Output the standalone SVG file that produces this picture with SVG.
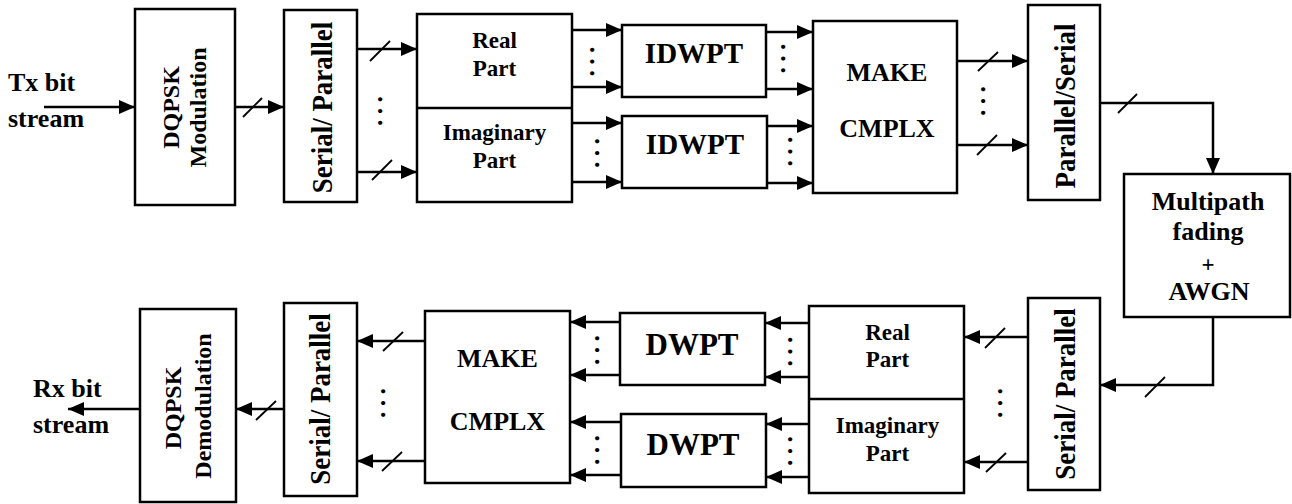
<svg xmlns="http://www.w3.org/2000/svg" width="1292" height="504" viewBox="0 0 1292 504">
<defs>
<marker id="ah" markerUnits="userSpaceOnUse" markerWidth="16" markerHeight="14" refX="16" refY="7" orient="auto">
<path d="M0,0 L16,7 L0,14 z" fill="#000"/>
</marker>
<style>
.box{fill:#fff;stroke:#000;stroke-width:2.5}
.div{stroke:#000;stroke-width:2.5}
.c{fill:none;stroke:#000;stroke-width:2.5;marker-end:url(#ah)}
.sl{stroke:#000;stroke-width:1.8}
text{font-family:"Liberation Serif","Times New Roman",serif;font-weight:bold;fill:#000}
.m{text-anchor:middle}
.dots{font-weight:normal;font-size:35px;text-anchor:middle}
</style>
</defs>
<rect x="0" y="0" width="1292" height="504" fill="#fff"/>

<g id="connectors">
<line class="c" x1="44" y1="107" x2="135" y2="107"/>
<line class="c" x1="235" y1="107" x2="284" y2="107"/>
<line class="c" x1="357" y1="49" x2="417" y2="49"/>
<line class="c" x1="357" y1="172" x2="417" y2="172"/>
<line class="c" x1="572" y1="30" x2="622" y2="30"/>
<line class="c" x1="572" y1="87" x2="622" y2="87"/>
<line class="c" x1="572" y1="123" x2="622" y2="123"/>
<line class="c" x1="572" y1="182" x2="622" y2="182"/>
<line class="c" x1="766" y1="32" x2="813" y2="32"/>
<line class="c" x1="766" y1="89" x2="813" y2="89"/>
<line class="c" x1="767" y1="126" x2="813" y2="126"/>
<line class="c" x1="767" y1="183" x2="813" y2="183"/>
<line class="c" x1="957" y1="61" x2="1028" y2="61"/>
<line class="c" x1="957" y1="145" x2="1028" y2="145"/>
<path class="c" d="M1100,103 H1213 V174"/>
<path class="c" d="M1213,317 V385 H1100"/>
<line class="c" x1="1028" y1="337" x2="964" y2="337"/>
<line class="c" x1="1028" y1="462" x2="964" y2="462"/>
<line class="c" x1="809" y1="323" x2="765" y2="323"/>
<line class="c" x1="809" y1="377" x2="765" y2="377"/>
<line class="c" x1="809" y1="424" x2="766" y2="424"/>
<line class="c" x1="809" y1="477" x2="766" y2="477"/>
<line class="c" x1="620" y1="322" x2="570" y2="322"/>
<line class="c" x1="620" y1="375" x2="570" y2="375"/>
<line class="c" x1="621" y1="422" x2="570" y2="422"/>
<line class="c" x1="621" y1="475" x2="570" y2="475"/>
<line class="c" x1="425" y1="341" x2="357" y2="341"/>
<line class="c" x1="425" y1="461" x2="357" y2="461"/>
<line class="c" x1="284" y1="409" x2="236" y2="409"/>
<line class="c" x1="140" y1="409" x2="68" y2="409"/>
<!-- bus slashes -->
<line class="sl" x1="243" y1="117" x2="262" y2="98"/>
<line class="sl" x1="370" y1="61" x2="390" y2="41"/>
<line class="sl" x1="372" y1="180" x2="392" y2="160"/>
<line class="sl" x1="978" y1="71" x2="998" y2="52"/>
<line class="sl" x1="977" y1="155" x2="997" y2="135"/>
<line class="sl" x1="1118" y1="113" x2="1137" y2="94"/>
<line class="sl" x1="1145" y1="397" x2="1165" y2="377"/>
<line class="sl" x1="985" y1="348" x2="1005" y2="328"/>
<line class="sl" x1="986" y1="472" x2="1006" y2="453"/>
<line class="sl" x1="383" y1="351" x2="403" y2="332"/>
<line class="sl" x1="382" y1="471" x2="402" y2="452"/>
<line class="sl" x1="256" y1="420" x2="276" y2="401"/>
<!-- ellipses -->
<text class="dots" transform="translate(378,111) rotate(90)">…</text>
<text class="dots" transform="translate(590,61.5) rotate(90)">…</text>
<text class="dots" transform="translate(781,58.5) rotate(90)">…</text>
<text class="dots" transform="translate(595,153) rotate(90)">…</text>
<text class="dots" transform="translate(788,151.5) rotate(90)">…</text>
<text class="dots" transform="translate(981,101) rotate(90)">…</text>
<text class="dots" transform="translate(998,403) rotate(90)">…</text>
<text class="dots" transform="translate(788,351.5) rotate(90)">…</text>
<text class="dots" transform="translate(788,451) rotate(90)">…</text>
<text class="dots" transform="translate(595,350) rotate(90)">…</text>
<text class="dots" transform="translate(595,450) rotate(90)">…</text>
<text class="dots" transform="translate(381,403) rotate(90)">…</text>
</g>

<g id="tx-label">
<text x="8" y="91" font-size="26">Tx bit</text>
<text x="8" y="127" font-size="26">stream</text>
</g>
<g id="rx-label">
<text x="33" y="397" font-size="26">Rx bit</text>
<text x="33" y="433" font-size="26">stream</text>
</g>

<g id="dqpsk-mod">
<rect class="box" x="135" y="9" width="100" height="196"/>
<text class="m" font-size="24" transform="translate(179,107.5) rotate(-90)">DQPSK</text>
<text class="m" font-size="24" transform="translate(206,107.5) rotate(-90)">Modulation</text>
</g>
<g id="sp-tx">
<rect class="box" x="284" y="10" width="73" height="192"/>
<text class="m" font-size="27" transform="translate(332,107.5) rotate(-90) scale(1,1.12)">Serial/ Parallel</text>
</g>
<g id="re-im-tx">
<rect class="box" x="417" y="14" width="155" height="188"/>
<line class="div" x1="417" y1="108" x2="572" y2="108"/>
<text class="m" x="494.5" y="48" font-size="23">Real</text>
<text class="m" x="494.5" y="76" font-size="23">Part</text>
<text class="m" x="494.5" y="140" font-size="23">Imaginary</text>
<text class="m" x="494.5" y="168" font-size="23">Part</text>
</g>
<g id="idwpt-1">
<rect class="box" x="622" y="25" width="144" height="72"/>
<text class="m" x="694" y="63" font-size="29">IDWPT</text>
</g>
<g id="idwpt-2">
<rect class="box" x="622" y="116" width="145" height="72"/>
<text class="m" x="695" y="154" font-size="29">IDWPT</text>
</g>
<g id="make-tx">
<rect class="box" x="813" y="21" width="144" height="172"/>
<text class="m" x="887" y="81" font-size="26">MAKE</text>
<text class="m" x="887" y="137" font-size="26">CMPLX</text>
</g>
<g id="ps-tx">
<rect class="box" x="1028" y="5" width="72" height="195"/>
<text class="m" font-size="27" transform="translate(1075,106) rotate(-90) scale(1,1.12)">Parallel/Serial</text>
</g>
<g id="channel">
<rect class="box" x="1124" y="174" width="166" height="143"/>
<text class="m" x="1208" y="210" font-size="26">Multipath</text>
<text class="m" x="1208" y="240" font-size="26">fading</text>
<text class="m" x="1208" y="271.5" font-size="23" font-weight="normal">+</text>
<text class="m" x="1209" y="300" font-size="26">AWGN</text>
</g>
<g id="sp-rx">
<rect class="box" x="1028" y="298" width="72" height="192"/>
<text class="m" font-size="27" transform="translate(1075,394) rotate(-90) scale(1,1.12)">Serial/ Parallel</text>
</g>
<g id="re-im-rx">
<rect class="box" x="809" y="306" width="155" height="187"/>
<line class="div" x1="809" y1="399" x2="964" y2="399"/>
<text class="m" x="887.5" y="340" font-size="23">Real</text>
<text class="m" x="887.5" y="367" font-size="23">Part</text>
<text class="m" x="887.5" y="433" font-size="23">Imaginary</text>
<text class="m" x="887.5" y="461" font-size="23">Part</text>
</g>
<g id="dwpt-1">
<rect class="box" x="620" y="313" width="145" height="72"/>
<text class="m" x="692" y="355" font-size="31">DWPT</text>
</g>
<g id="dwpt-2">
<rect class="box" x="621" y="414" width="145" height="73"/>
<text class="m" x="693" y="455" font-size="31">DWPT</text>
</g>
<g id="make-rx">
<rect class="box" x="425" y="311" width="145" height="172"/>
<text class="m" x="497.5" y="367" font-size="26">MAKE</text>
<text class="m" x="497.5" y="430" font-size="26">CMPLX</text>
</g>
<g id="sp-rx2">
<rect class="box" x="284" y="303" width="73" height="193"/>
<text class="m" font-size="27" transform="translate(330,399) rotate(-90) scale(1,1.1)">Serial/ Parallel</text>
</g>
<g id="dqpsk-demod">
<rect class="box" x="140" y="309" width="96" height="193"/>
<text class="m" font-size="24" transform="translate(181,408) rotate(-90)">DQPSK</text>
<text class="m" font-size="24" transform="translate(211,406) rotate(-90)">Demodulation</text>
</g>
</svg>
